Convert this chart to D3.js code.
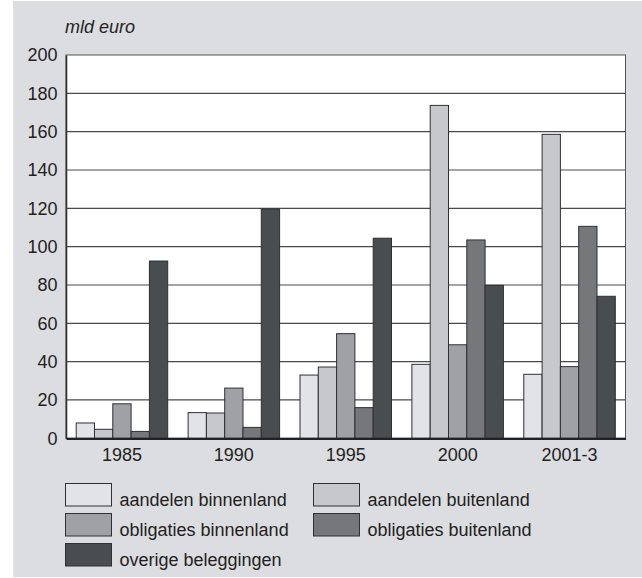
<!DOCTYPE html>
<html>
<head>
<meta charset="utf-8">
<script src="https://cdn.jsdelivr.net/npm/d3@7"></script>
<style>
body { margin: 0; background: #fff; }
svg text { font-family: "Liberation Sans", Arial, sans-serif; fill: #231f20; }
</style>
</head>
<body>
<div id="chart"></div>
<script>
var categories = ["1985", "1990", "1995", "2000", "2001-3"]
var series = ["aandelen binnenland", "aandelen buitenland", "obligaties binnenland", "obligaties buitenland", "overige beleggingen"]
var aandelenBinnen = [8, 13.4, 33, 38.6, 33.4]
var aandelenBuiten = [4.7, 13.2, 37.2, 173.7, 158.6]
var obligatiesBinnen = [18, 26.2, 54.6, 48.8, 37.4]
var obligatiesBuiten = [3.6, 5.7, 16, 103.5, 110.6]
var overige = [92.5, 119.6, 104.4, 79.8, 74.1]
var yTicks = [0, 20, 40, 60, 80, 100, 120, 140, 160, 180, 200]

var values = [aandelenBinnen, aandelenBuiten, obligatiesBinnen, obligatiesBuiten, overige]
var colors = ["#e2e3e6", "#c6c8cb", "#9fa1a5", "#75777b", "#4a4d50"]

var svg = d3.select("#chart")
    .append("svg")
    .attr("width", 642)
    .attr("height", 578)

// grey panel
svg.append("rect")
    .attr("x", 13).attr("y", 1)
    .attr("width", 629).attr("height", 576)
    .style("fill", "#dcdde0")

var plotLeft = 66, plotRight = 625.5, plotTop = 55, plotBottom = 438.3
var groupW = 91.5

var x = d3.scaleBand()
    .domain(categories)
    .range([plotLeft, plotRight])

var x1 = d3.scaleBand()
    .domain(d3.range(series.length))
    .range([0, groupW])

var y = d3.scaleLinear()
    .domain([0, 200])
    .range([plotBottom, plotTop])

// plot background
svg.append("rect")
    .attr("x", plotLeft).attr("y", plotTop)
    .attr("width", plotRight - plotLeft).attr("height", plotBottom - plotTop)
    .style("fill", "#fff")
    .style("stroke", "#555")
    .style("stroke-width", 1)

// gridlines
svg.append("g")
    .selectAll("line")
    .data(yTicks.filter(d => d > 0 && d < 200))
    .enter()
    .append("line")
    .attr("x1", plotLeft).attr("x2", plotRight)
    .attr("y1", d => y(d)).attr("y2", d => y(d))
    .style("stroke", "#4a4a4a")
    .style("stroke-width", 1.2)

// bars
var groups = svg.append("g")
    .selectAll("g")
    .data(categories)
    .enter()
    .append("g")
    .attr("transform", d => "translate(" + (x(d) + (x.bandwidth() - groupW) / 2) + ",0)")

groups.selectAll("rect")
    .data((d, i) => values.map((s, j) => ({ s: j, v: s[i] })))
    .enter()
    .append("rect")
    .attr("x", d => x1(d.s))
    .attr("y", d => y(d.v))
    .attr("width", x1.bandwidth())
    .attr("height", d => plotBottom - y(d.v))
    .style("fill", d => colors[d.s])
    .style("stroke", "#2e3033")
    .style("stroke-width", 1)

// axes
var yAxis = svg.append("g")
    .attr("transform", "translate(" + plotLeft + ",0)")
    .call(d3.axisLeft(y).tickValues(yTicks).tickSize(0).tickPadding(8.5))
yAxis.select(".domain").style("stroke", "#333").style("stroke-width", 1.6)
yAxis.selectAll("text").style("font-size", "18px").style("fill", "#231f20")
    .style("font-family", "'Liberation Sans', Arial, sans-serif")

var xAxis = svg.append("g")
    .attr("transform", "translate(0," + plotBottom + ")")
    .call(d3.axisBottom(x).tickSize(0).tickPadding(9.5))
xAxis.select(".domain").style("stroke", "#222").style("stroke-width", 2.2)
xAxis.selectAll("text").style("font-size", "18px").style("fill", "#231f20")
    .style("font-family", "'Liberation Sans', Arial, sans-serif")

svg.append("text")
    .attr("x", 65).attr("y", 33)
    .style("font-size", "18px")
    .style("font-style", "italic")
    .text("mld euro")

// legend
var legend = svg.append("g")
    .selectAll("g")
    .data(series)
    .enter()
    .append("g")
    .attr("transform", (d, i) => "translate(" + (i % 2 === 0 ? 65.5 : 313.5) + "," + (483.5 + Math.floor(i / 2) * 30) + ")")

legend.append("rect")
    .attr("width", 46).attr("height", 22.5)
    .style("fill", (d, i) => colors[i])
    .style("stroke", "#2e3033")
    .style("stroke-width", 1)

legend.append("text")
    .attr("x", 54).attr("y", 22)
    .style("font-size", "18px")
    .text(d => d)
</script>
</body>
</html>
